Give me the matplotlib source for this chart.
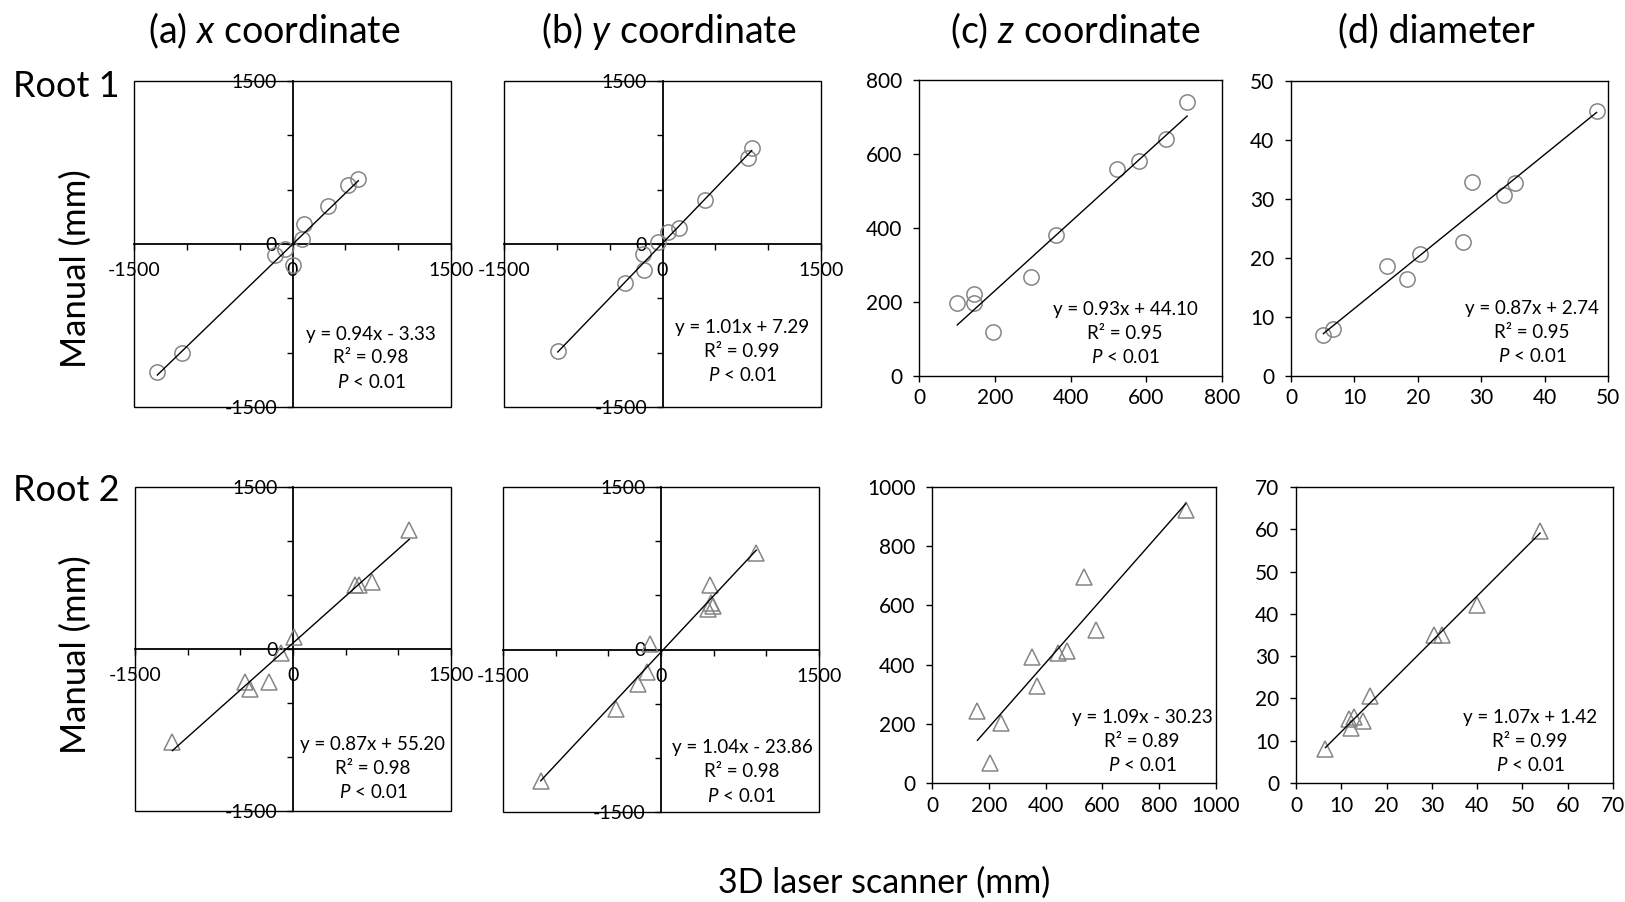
import numpy as np
import matplotlib
matplotlib.use('Agg')
import matplotlib.pyplot as plt
from matplotlib.patches import Rectangle

plt.rcParams['font.family'] = ['Lato', 'DejaVu Sans']
plt.rcParams['mathtext.fontset'] = 'custom'
plt.rcParams['mathtext.rm'] = 'Lato'
plt.rcParams['mathtext.it'] = 'Lato:italic'
plt.rcParams['axes.unicode_minus'] = False

# scanner (x) vs manual (y) values, mm
r1_x_scan = [-1279, -1042, -166, -71, 2, 87, 112, 339, 522, 623]
r1_x_man = [-1175, -1000, -101, -49, -193, 43, 184, 350, 540, 598]
r1_y_scan = [-991, -355, -175, -187, -40, 49, 159, 402, 806, 844]
r1_y_man = [-982, -362, -239, -92, 21, 113, 144, 405, 794, 886]
r1_z_scan = [101, 144, 146, 196, 295, 361, 524, 581, 652, 708]
r1_z_man = [198, 221, 198, 118, 268, 381, 559, 581, 640, 741]
r1_d_scan = [5.1, 6.7, 15.2, 18.3, 20.4, 27.1, 28.5, 33.6, 35.4, 48.2]
r1_d_man = [7.0, 8.0, 18.6, 16.4, 20.7, 22.7, 32.9, 30.6, 32.7, 45.0]

r2_x_scan = [-1146, -456, -408, -228, -114, 13, 589, 627, 753, 1104]
r2_x_man = [-860, -309, -371, -309, -40, 114, 597, 588, 619, 1104]
r2_y_scan = [-1142, -430, -218, -130, -101, 443, 462, 472, 491, 905]
r2_y_man = [-1215, -546, -315, -204, 49, 373, 595, 428, 400, 891]
r2_z_scan = [160, 203, 244, 353, 370, 442, 476, 535, 579, 893]
r2_z_man = [244, 68, 204, 424, 327, 438, 446, 695, 517, 923]
r2_d_scan = [6.5, 11.8, 12.2, 12.9, 14.7, 16.4, 30.4, 32.2, 40.0, 53.9]
r2_d_man = [8.1, 15.1, 13.1, 15.6, 14.7, 20.5, 35.1, 34.9, 42.2, 59.5]

# regression results (slope, intercept, R2)
r1_slope = [0.94, 1.01, 0.93, 0.87]
r1_icpt = [-3.33, 7.29, 44.10, 2.74]
r1_r2 = [0.98, 0.99, 0.95, 0.95]
r2_slope = [0.87, 1.04, 1.09, 1.07]
r2_icpt = [55.20, -23.86, -30.23, 1.42]
r2_r2 = [0.98, 0.98, 0.89, 0.99]

col_titles = ['(a) $x$ coordinate', '(b) $y$ coordinate', '(c) $z$ coordinate', '(d) diameter']
z_ticks = [np.arange(0, 801, 200), np.arange(0, 1001, 200)]
d_ticks = [np.arange(0, 51, 10), np.arange(0, 71, 10)]

W, H = 1625, 902
fig = plt.figure(figsize=(W/100, H/100), dpi=100)

def px_axes(x0, y0, x1, y1):
    return fig.add_axes([x0/W, 1 - y1/H, (x1-x0)/W, (y1-y0)/H])

# axes boxes in pixels (left, top, right, bottom)
boxes = [[(134, 81, 451, 407), (504, 81, 821, 407), (919, 80, 1222, 376), (1291, 81, 1608, 376)],
         [(135, 487, 451, 811), (503, 487, 819, 812), (932, 487, 1216, 783), (1296, 487, 1613, 783)]]
# text anchor (axes fraction) of the middle line of each stats block
stat_pos = [[(0.748, 0.150), (0.751, 0.169), (0.68, 0.142), (0.76, 0.146)],
            [(0.753, 0.130), (0.756, 0.123), (0.74, 0.139), (0.738, 0.139)]]

def scatter_fit(ax, xs, ys, m, b, marker):
    xs = np.array(xs)
    ax.plot(xs, ys, linestyle='none', marker=marker, ms=11.5 if marker == '^' else 11,
            mfc='none', mec='#858585', mew=1.1, zorder=3)
    xx = np.array([xs.min(), xs.max()])
    ax.plot(xx, m*xx + b, color='black', lw=1.0, zorder=4)

def stats_text(ax, pos, m, b, r2):
    sign = '+' if b >= 0 else '-'
    txt = 'y = %.2fx %s %.2f\nR\u00b2 = %.2f\n$P$ < 0.01' % (m, sign, abs(b), r2)
    ax.text(pos[0], pos[1], txt, transform=ax.transAxes, ha='center', va='center',
            fontsize=13.5, linespacing=1.45, zorder=5)

def cross_axes(ax):
    ax.set_xlim(-1500, 1500)
    ax.set_ylim(-1500, 1500)
    ax.spines['left'].set_position('zero')
    ax.spines['bottom'].set_position('zero')
    ax.spines['top'].set_visible(False)
    ax.spines['right'].set_visible(False)
    ax.spines['left'].set_linewidth(1.3)
    ax.spines['bottom'].set_linewidth(1.3)
    ax.add_patch(Rectangle((0, 0), 1, 1, transform=ax.transAxes, fill=False,
                           ec='black', lw=1.0, clip_on=False, zorder=2))
    ax.set_xticks([-1500, 0, 1500])
    ax.set_yticks([-1500, 0, 1500])
    ax.set_xticks([-1000, -500, 500, 1000], minor=True)
    ax.set_yticks([-1000, -500, 500, 1000], minor=True)
    ax.tick_params(axis='both', which='both', direction='out', length=4, width=1.0, labelsize=14)
    ax.tick_params(axis='x', which='major', pad=9)
    ax.tick_params(axis='y', which='major', pad=7)
    ax.patch.set_visible(False)

def box_axes(ax, ticks):
    ax.set_xlim(ticks[0], ticks[-1])
    ax.set_ylim(ticks[0], ticks[-1])
    ax.set_xticks(ticks)
    ax.set_yticks(ticks)
    for s in ax.spines.values():
        s.set_linewidth(1.0)
    ax.tick_params(direction='out', length=4, width=1.0, labelsize=15)
    ax.tick_params(axis='y', pad=8)
    ax.tick_params(axis='x', pad=5)

rows = [
    (r1_x_scan, r1_x_man, r1_y_scan, r1_y_man, r1_z_scan, r1_z_man, r1_d_scan, r1_d_man,
     r1_slope, r1_icpt, r1_r2, 'o'),
    (r2_x_scan, r2_x_man, r2_y_scan, r2_y_man, r2_z_scan, r2_z_man, r2_d_scan, r2_d_man,
     r2_slope, r2_icpt, r2_r2, '^'),
]

for i, row in enumerate(rows):
    data = [(row[0], row[1]), (row[2], row[3]), (row[4], row[5]), (row[6], row[7])]
    slope, icpt, r2, mk = row[8], row[9], row[10], row[11]
    for j in range(4):
        ax = px_axes(*boxes[i][j])
        if j < 2:
            cross_axes(ax)
        elif j == 2:
            box_axes(ax, z_ticks[i])
        else:
            box_axes(ax, d_ticks[i])
        scatter_fit(ax, data[j][0], data[j][1], slope[j], icpt[j], mk)
        stats_text(ax, stat_pos[i][j], slope[j], icpt[j], r2[j])

# column titles, row labels, axis labels
for x, t in zip([274, 669, 1075, 1436], col_titles):
    fig.text(x/W, 1 - 31/H, t, ha='center', va='center', fontsize=27)
fig.text(13/W, 1 - 97/H, 'Root 1', ha='left', va='baseline', fontsize=26)
fig.text(13/W, 1 - 501/H, 'Root 2', ha='left', va='baseline', fontsize=26)
fig.text(76/W, 1 - 269/H, 'Manual (mm)', rotation=90, ha='center', va='center', fontsize=25)
fig.text(76/W, 1 - 655/H, 'Manual (mm)', rotation=90, ha='center', va='center', fontsize=25)
fig.text(884/W, 1 - 883/H, '3D laser scanner (mm)', ha='center', va='center', fontsize=24.5)

plt.savefig('out.png', dpi=100)
plt.close()
